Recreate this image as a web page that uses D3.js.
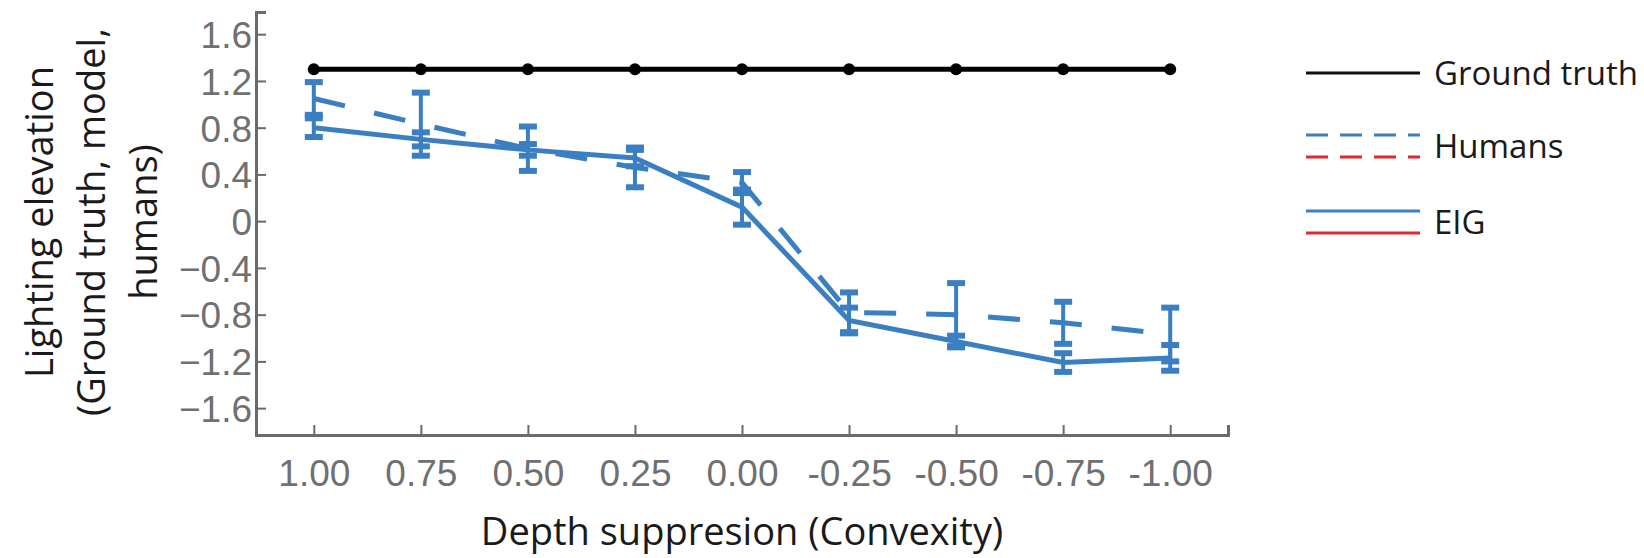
<!DOCTYPE html>
<html>
<head>
<meta charset="utf-8">
<script src="https://cdn.jsdelivr.net/npm/d3@7"></script>
<style>
  body { margin: 0; background: #fff; }
  svg { display: block; font-family: "Open Sans", sans-serif; }
</style>
</head>
<body>
<script>
// depth suppression levels (x axis, left to right)
var convexity = [1.00, 0.75, 0.50, 0.25, 0.00, -0.25, -0.50, -0.75, -1.00];
var xTickLabels = ["1.00", "0.75", "0.50", "0.25", "0.00", "-0.25", "-0.50", "-0.75", "-1.00"];
var yTicks = [1.6, 1.2, 0.8, 0.4, 0, -0.4, -0.8, -1.2, -1.6];

var groundTruth = [1.30, 1.30, 1.30, 1.30, 1.30, 1.30, 1.30, 1.30, 1.30];
var humans      = [1.05, 0.83, 0.62, 0.46, 0.33, -0.78, -0.80, -0.87, -0.97];
var humansErr   = [0.14, 0.27, 0.19, 0.17, 0.09, 0.17, 0.27, 0.18, 0.23];
var eig         = [0.80, 0.70, 0.61, 0.54, 0.12, -0.85, -1.03, -1.21, -1.17];
var eigErr      = [0.08, 0.06, 0.05, 0.07, 0.15, 0.11, 0.05, 0.08, 0.11];

var legendItems = [
  { label: "Ground truth", colors: ["#111"], dash: null },
  { label: "Humans", colors: ["#3a7fc2", "#e0282e"], dash: "22,12" },
  { label: "EIG", colors: ["#3a7fc2", "#e0282e"], dash: null }
];

var blue = "#3a7fc2";

var svg = d3.select("body").append("svg")
  .attr("width", 1644)
  .attr("height", 558);

var x = d3.scaleLinear().domain([1.135, -1.135]).range([256, 1228]);
var y = d3.scaleLinear().domain([-1.83, 1.79]).range([435, 12]);

// axes
var yAxis = svg.append("g")
  .attr("transform", "translate(256,0)")
  .call(d3.axisRight(y).tickValues(yTicks).tickSize(10).tickFormat(function(d) {
    return d === 0 ? "0" : d3.format(".1f")(d).replace("-", "\u2212");
  }));
var xAxis = svg.append("g")
  .attr("transform", "translate(0,435)")
  .call(d3.axisTop(x).tickValues(convexity).tickSize(10).tickFormat(function(d, i) { return xTickLabels[i]; }));

[xAxis, yAxis].forEach(function(g) {
  g.select(".domain").attr("stroke", "#6a6a6a").attr("stroke-width", 3);
  g.selectAll(".tick line").attr("stroke", "#6a6a6a").attr("stroke-width", 2);
  g.selectAll(".tick text").attr("fill", "#707070").style("font-size", "37px");
});
yAxis.selectAll(".tick text").attr("x", -4).attr("text-anchor", "end").attr("dy", "0.36em");
xAxis.selectAll(".tick text").attr("y", 38).attr("dy", "0.36em");

// ground truth
var line = d3.line()
  .x(function(d, i) { return x(convexity[i]); })
  .y(function(d) { return y(d); });

svg.append("path")
  .datum(groundTruth)
  .attr("d", line)
  .attr("fill", "none")
  .attr("stroke", "#000")
  .attr("stroke-width", 5);
svg.selectAll(".gt-dot")
  .data(groundTruth)
  .enter().append("circle")
  .attr("class", "gt-dot")
  .attr("cx", function(d, i) { return x(convexity[i]); })
  .attr("cy", function(d) { return y(d); })
  .attr("r", 6)
  .attr("fill", "#000");

//error bars for one series
function errorBars(vals, errs) {
  var g = svg.append("g").attr("stroke", blue);
  vals.forEach(function(v, i) {
    var cx = x(convexity[i]);
    g.append("line")
      .attr("x1", cx).attr("x2", cx)
      .attr("y1", y(v + errs[i])).attr("y2", y(v - errs[i]))
      .attr("stroke-width", 4);
    [v + errs[i], v - errs[i]].forEach(function(e) {
      g.append("line")
        .attr("x1", cx - 9).attr("x2", cx + 9)
        .attr("y1", y(e)).attr("y2", y(e))
        .attr("stroke-width", 6);
    });
  });
}

svg.append("path")
  .datum(humans)
  .attr("d", line)
  .attr("fill", "none")
  .attr("stroke", blue)
  .attr("stroke-width", 5)
  .attr("stroke-dasharray", "32,30");
errorBars(humans, humansErr);

svg.append("path")
  .datum(eig)
  .attr("d", line)
  .attr("fill", "none")
  .attr("stroke", blue)
  .attr("stroke-width", 5);
errorBars(eig, eigErr);

// axis titles
svg.append("text")
  .attr("x", x(0))
  .attr("y", 545)
  .attr("text-anchor", "middle")
  .attr("fill", "#1a1a1a")
  .style("font-size", "38px")
  .text("Depth suppresion (Convexity)");

var yTitle = svg.append("text")
  .attr("transform", "translate(40,222) rotate(-90)")
  .attr("text-anchor", "middle")
  .attr("fill", "#1a1a1a")
  .style("font-size", "38px");
["Lighting elevation", "(Ground truth, model,", "humans)"].forEach(function(t, i) {
  yTitle.append("tspan")
    .attr("x", 0)
    .attr("y", i * 52)
    .attr("dy", "0.35em")
    .text(t);
});

// legend
var legendY = [73, 146, 222];
var legend = svg.append("g");
legendItems.forEach(function(item, i) {
  var ly = legendY[i];
  var n = item.colors.length;
  item.colors.forEach(function(c, j) {
    var off = n === 1 ? 0 : (j === 0 ? -11 : 11);
    legend.append("line")
      .attr("x1", 1306).attr("x2", 1420)
      .attr("y1", ly + off).attr("y2", ly + off)
      .attr("stroke", c)
      .attr("stroke-width", 3)
      .attr("stroke-dasharray", item.dash);
  });
  legend.append("text")
    .attr("x", 1434)
    .attr("y", ly)
    .attr("dy", "0.35em")
    .attr("fill", "#1a1a1a")
    .style("font-size", "33px")
    .text(item.label);
});
</script>
</body>
</html>
